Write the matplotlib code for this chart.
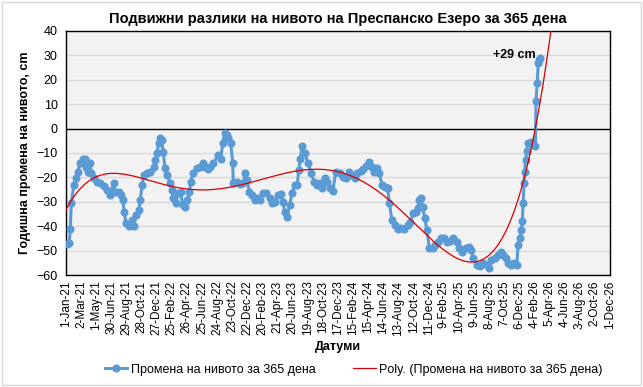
import numpy as np
import pandas as pd
import matplotlib
matplotlib.use("Agg")
import matplotlib.pyplot as plt
import matplotlib.dates as mdates
from matplotlib.patches import Rectangle

plt.rcParams['font.family'] = ['Liberation Sans', 'DejaVu Sans']

# days since 1-Jan-2021 and 365-day level change (cm)
days = [4, 13, 17, 21, 31, 40, 46, 57, 66, 74, 79, 87, 96, 100, 110, 123, 136, 150,
        163, 176, 189, 196, 209, 220, 226, 231, 238, 249, 262, 269, 278, 289, 295,
        302, 309, 322, 335, 348, 355, 361, 368, 374, 380, 386, 393, 402, 413, 420,
        426, 436, 446, 455, 463, 472, 482, 490, 495, 505, 519, 532, 543, 552, 565,
        572, 585, 605, 615, 622, 631, 638, 644, 654, 662, 664, 678, 691, 704, 711,
        720, 728, 737, 750, 764, 769, 782, 795, 809, 818, 829, 842, 852, 862, 868,
        879, 888, 897, 908, 918, 924, 930, 937, 948, 961, 974, 985, 998, 1007, 1018,
        1027, 1038, 1047, 1060, 1071, 1087, 1100, 1113, 1122, 1133, 1146, 1157,
        1171, 1180, 1191, 1204, 1215, 1224, 1234, 1244, 1255, 1268, 1277, 1284,
        1294, 1307, 1317, 1330, 1343, 1357, 1367, 1379, 1390, 1396, 1403, 1410,
        1416, 1425, 1433, 1443, 1456, 1466, 1476, 1489, 1502, 1513, 1525, 1538,
        1551, 1560, 1574, 1587, 1600, 1609, 1617, 1631, 1644, 1657, 1670, 1680,
        1689, 1702, 1715, 1726, 1736, 1746, 1755, 1768, 1779, 1790, 1795, 1801,
        1808, 1812, 1815, 1819, 1821, 1825, 1829, 1835, 1845, 1853, 1864, 1866,
        1871, 1875, 1880, 1882]
change = [-47.3, -46.8, -41.3, -30.6, -23.1, -20.4, -17.7, -14.2, -12.5, -12.6, -15.6,
          -17.7, -14.2, -18.3, -20.4, -21.8, -22.4, -23.5, -25.2, -27.2, -22.4, -25.9,
          -25.9, -27.2, -29.3, -34.0, -38.8, -39.9, -37.5, -39.9, -35.4, -33.4, -29.3,
          -23.1, -19.0, -18.1, -17.7, -15.6, -12.9, -10.1, -5.8, -4.0, -4.7, -9.5,
          -16.3, -19.0, -22.4, -25.2, -28.6, -30.6, -26.5, -25.9, -31.3, -32.0, -29.3,
          -25.9, -21.8, -18.3, -16.3, -15.6, -14.2, -15.6, -16.7, -15.6, -14.2, -10.8,
          -12.6, -6.0, -1.7, -2.6, -4.0, -6.0, -14.2, -22.2, -21.8, -22.7, -22.4,
          -18.3, -21.1, -25.9, -27.2, -29.3, -28.6, -29.3, -26.5, -26.3, -28.6, -30.6,
          -30.0, -27.2, -26.8, -30.0, -34.0, -36.1, -31.3, -26.5, -23.1, -23.1, -17.0,
          -12.6, -7.1, -10.1, -14.2, -18.3, -21.8, -23.1, -22.4, -24.5, -20.4, -21.8,
          -24.5, -25.4, -17.7, -18.3, -19.7, -20.4, -17.7, -19.0, -20.4, -18.3, -17.3,
          -16.7, -15.3, -13.6, -15.6, -17.7, -16.3, -18.3, -23.1, -23.8, -24.5, -30.6,
          -37.5, -39.5, -41.3, -40.9, -41.3, -39.5, -38.2, -34.7, -34.0, -32.7, -29.3,
          -28.6, -32.3, -36.8, -41.6, -49.1, -49.1, -47.7, -46.3, -45.0, -45.0, -46.3,
          -45.9, -45.0, -46.3, -49.1, -50.4, -49.1, -48.7, -49.8, -53.2, -55.9, -56.3,
          -55.2, -55.9, -57.3, -53.9, -53.2, -51.8, -50.4, -51.8, -53.2, -55.2, -55.9,
          -55.2, -55.9, -47.7, -45.0, -41.6, -37.7, -30.6, -22.4, -17.7, -12.9, -9.0,
          -6.0, -5.6, -6.7, -7.1, 11.5, 18.6, 26.8, 28.0, 28.8]

# Excel "Poly." trendline at these days
trend_days = [4, 24, 50, 90, 130, 183, 222, 275, 328, 381, 556, 731, 862, 956, 1035,
              1128, 1207, 1287, 1366, 1445, 1525, 1591, 1636, 1670, 1723, 1776, 1816,
              1855, 1882, 1909, 1932]
trend_vals = [-33.4, -28.6, -24.5, -21.1, -19.7, -19.0, -19.0, -19.7, -21.1, -22.4,
              -24.5, -22.0, -19.0, -17.0, -17.2, -19.7, -23.1, -29.3, -36.8, -44.3,
              -51.1, -53.9, -54.5, -53.2, -49.1, -36.1, -21.1, -3.3, 13.1, 32.2, 40.4]

start = pd.Timestamp('2021-01-01')
dates = start + pd.to_timedelta(days, unit='D')
tick_dates = pd.date_range(start, periods=37, freq='60D')

# smooth 6th order polynomial through the read trend points
coef = np.polyfit(trend_days, trend_vals, 6)
t_days = np.arange(0, 1960)
t_vals = np.polyval(coef, t_days)
t_dates = start + pd.to_timedelta(t_days, unit='D')

fig = plt.figure(figsize=(6.43, 3.87), dpi=100)
fig.patches.append(Rectangle((0.003, 0.004), 0.994, 0.992, transform=fig.transFigure,
                             fill=False, edgecolor='#D9D9D9', linewidth=1))
ax = fig.add_axes([0.1026, 0.2894, 0.8461, 0.6306])
ax.set_facecolor('#F2F2F2')

ax.plot(dates, change, color='#5B9BD5', linewidth=2.2, marker='o', markersize=4.8,
        label='Промена на нивото за 365 дена', zorder=3)
ax.plot(t_dates, t_vals, color='#D80000', linewidth=0.9,
        label='Poly. (Промена на нивото за 365 дена)', zorder=4)

ax.set_ylim(-60, 40)
ax.set_yticks(np.arange(-60, 41, 10))
ax.set_xlim(tick_dates[0], tick_dates[-1])
ax.set_xticks(tick_dates)
ax.xaxis.set_major_formatter(mdates.DateFormatter('%-d-%b-%y'))
ax.tick_params(axis='x', rotation=90, labelsize=8.5, length=0, pad=4)
ax.tick_params(axis='y', labelsize=9, length=0, pad=6)
ax.grid(axis='y', color='#D9D9D9', linewidth=1)
ax.axhline(0, color='black', linewidth=1, zorder=2)
for s in ax.spines.values():
    s.set_color('black')
    s.set_linewidth(1)

ax.text(mdates.date2num(start + pd.Timedelta(days=1864)), 30, '+29 cm', ha='right',
        va='center', fontsize=9, fontweight='bold')

ax.set_title('Подвижни разлики на нивото на Преспанско Езеро за 365 дена',
             fontsize=10.5, fontweight='bold', pad=6)
ax.set_ylabel('Годишна промена на нивото, cm', fontsize=9, fontweight='bold', labelpad=4)
ax.set_xlabel('Датуми', fontsize=9, fontweight='bold', labelpad=4)

fig.legend(loc='lower center', bbox_to_anchor=(0.55, 0.0), ncol=2, frameon=False,
           fontsize=9, handlelength=1.8, handletextpad=0.3, columnspacing=3.0)

fig.savefig('out.png', dpi=100)
